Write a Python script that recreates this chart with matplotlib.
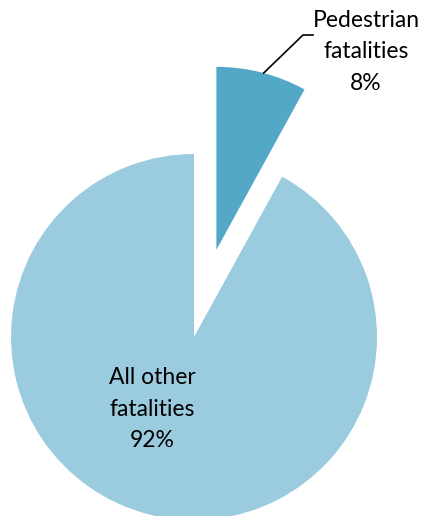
import numpy as np
import matplotlib
matplotlib.use("Agg")
import matplotlib.pyplot as plt

# data
labels = ["Pedestrian\nfatalities", "All other\nfatalities"]
shares = [8, 92]
colors = ["#53A8C8", "#9BCBDE"]

W, H = 427, 516
fig = plt.figure(figsize=(W / 100, H / 100), dpi=100)
ax = fig.add_axes([0, 0, 1, 1])

cx, cy = 194, H - 337
radius = 183
explode = [90, 0]  # pie uses absolute units for the offset

wedges, _ = ax.pie(shares, colors=colors, startangle=90, counterclock=False,
                   explode=explode, radius=radius, center=(cx, cy),
                   wedgeprops=dict(linewidth=0))

ax.set_xlim(0, W)
ax.set_ylim(0, H)
ax.set_aspect("auto")
ax.axis("off")

font = dict(family=["Lato", "DejaVu Sans"], fontsize=16.5, color="black",
            ha="center", va="center", linespacing=1.6)

# pedestrian label with leader line
mid = np.deg2rad(shares[0] / 100 * 360 / 2)
ox = cx + explode[0] * np.sin(mid)
oy = cy + explode[0] * np.cos(mid)
px = ox + radius * np.sin(mid + 0.01)
py = oy + radius * np.cos(mid + 0.01)
tx, ty = 366, H - 52
ax.plot([px, 303, 313], [py, H - 35, H - 35], color="black", lw=1.2)
ax.text(tx, ty, f"{labels[0]}\n{shares[0]}%", **font)

ax.text(152, H - 409, f"{labels[1]}\n{shares[1]}%", **font)

fig.savefig("out.png", dpi=100)
